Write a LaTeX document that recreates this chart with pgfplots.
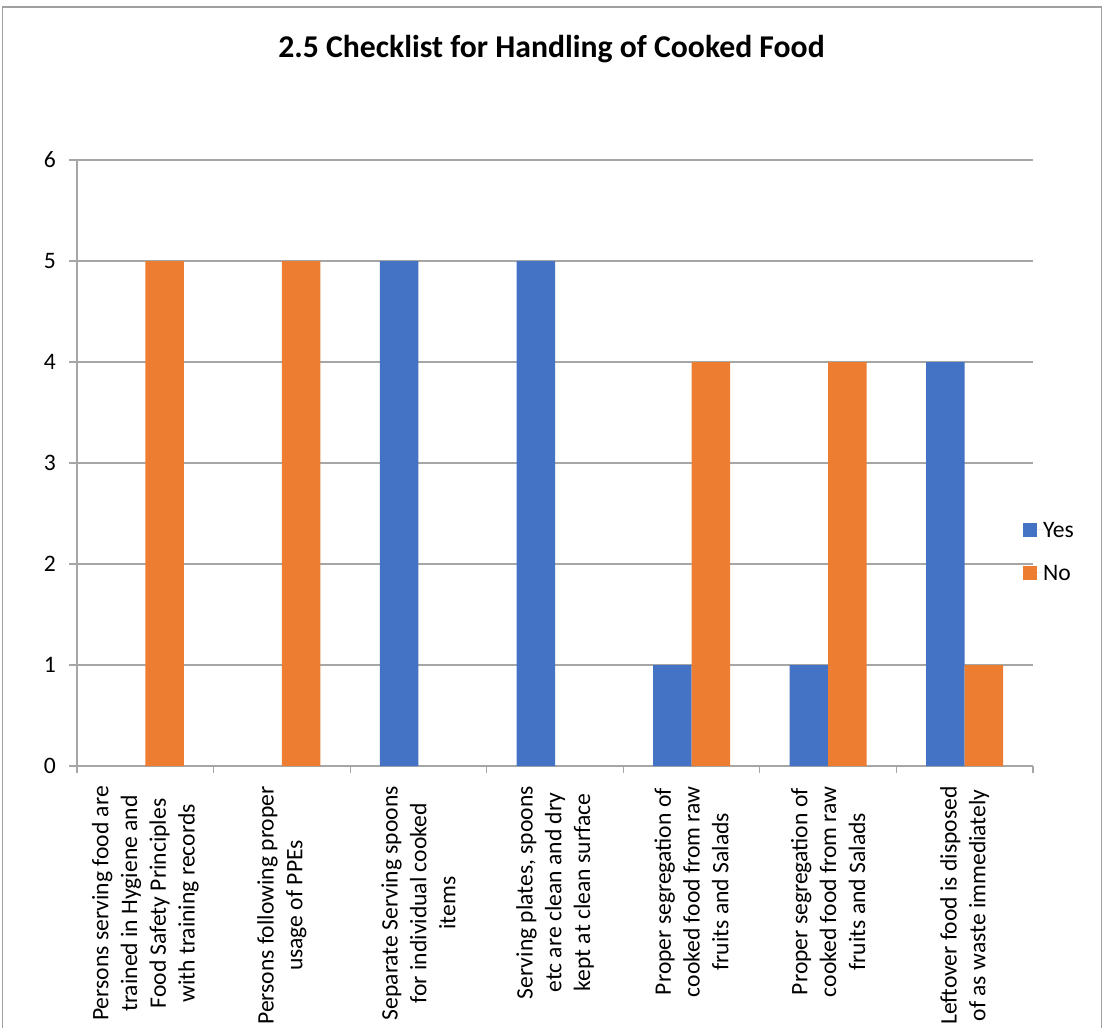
\documentclass[border=0pt]{standalone}
\usepackage{pgfplots}
\pgfplotsset{compat=1.18}
\usepackage{fontspec}
\setmainfont{Carlito}

\definecolor{yesblue}{HTML}{4472C4}
\definecolor{noorange}{HTML}{ED7D31}
\definecolor{gridgray}{HTML}{A6A6A6}
\definecolor{framegray}{HTML}{A0A0A0}

\newcommand\lblfont{\fontsize{23.6bp}{28.8bp}\selectfont}

\begin{document}
\begin{tikzpicture}[x=1bp,y=1bp]
\useasboundingbox (0,0) rectangle (1106,-1028);
\fill[white] (0,0) rectangle (1106,-1028);
\clip (0,0) rectangle (1106,-1028);
% chart frame
\draw[framegray, line width=1.3bp] (2.6,-7) rectangle (1101.6,-1060);
% title
\node[anchor=base, inner sep=0pt, font=\fontsize{31.7bp}{38bp}\selectfont\bfseries]
  at (551.5,-57) {2.5 Checklist for Handling of Cooked Food};
\begin{axis}[
  at={(77bp,-766bp)}, anchor=south west,
  scale only axis, width=956bp, height=606bp,
  ybar=0pt, bar width=38.5bp,
  enlargelimits=false,
  xmin=-0.5, xmax=6.5, ymin=0, ymax=6,
  restrict y to domain=0.01:10,
  xtick={0,...,6},
  xticklabels={
    {Persons serving food are\\trained in Hygiene and\\Food Safety Principles\\with training records},
    {Persons following proper\\usage of PPEs},
    {Separate Serving spoons\\for individual cooked\\items},
    {Serving plates, spoons\\etc are clean and dry\\kept at clean surface},
    {Proper segregation of\\cooked food from raw\\fruits and Salads},
    {Proper segregation of\\cooked food from raw\\fruits and Salads},
    {Leftover food is disposed\\of as waste immediately}},
  minor xtick={-0.5,0.5,...,6.5},
  ytick={0,...,6},
  ymajorgrids,
  grid style={gridgray, line width=1.2bp},
  axis x line*=bottom, axis y line*=left,
  axis line style={gridgray, line width=1.2bp, -},
  tick align=outside,
  major tick length=8bp,
  minor tick length=7bp,
  major x tick style={draw=none},
  minor x tick style={gridgray, line width=1.2bp},
  ytick style={gridgray, line width=1.2bp},
  xticklabel style={rotate=90, anchor=east, align=center, inner sep=0pt, font=\lblfont},
  xticklabel shift=12bp,
  yticklabel style={anchor=east, inner sep=0pt, font=\lblfont},
  yticklabel shift=13bp,
  /pgf/number format/assume math mode=true,
  legend style={at={(0.98954,0.40264)}, anchor=north west, draw=none, fill=none,
    inner sep=0pt, outer sep=0pt, row sep=28bp,
    nodes={inner sep=0pt, text height=15bp, text depth=0bp, font=\lblfont}},
  legend cell align=left,
  legend image code/.code={%
    \fill[#1, draw=none] (0bp,-7bp) rectangle (14bp,7bp);
    \path (0bp,0bp) -- (20bp,0bp);},
]
\addplot[fill=yesblue, draw=none] coordinates {(0,0) (1,0) (2,5) (3,5) (4,1) (5,1) (6,4)};
\addplot[fill=noorange, draw=none] coordinates {(0,5) (1,5) (2,0) (3,0) (4,4) (5,4) (6,1)};
\legend{Yes, No}
\end{axis}
\end{tikzpicture}
\end{document}
